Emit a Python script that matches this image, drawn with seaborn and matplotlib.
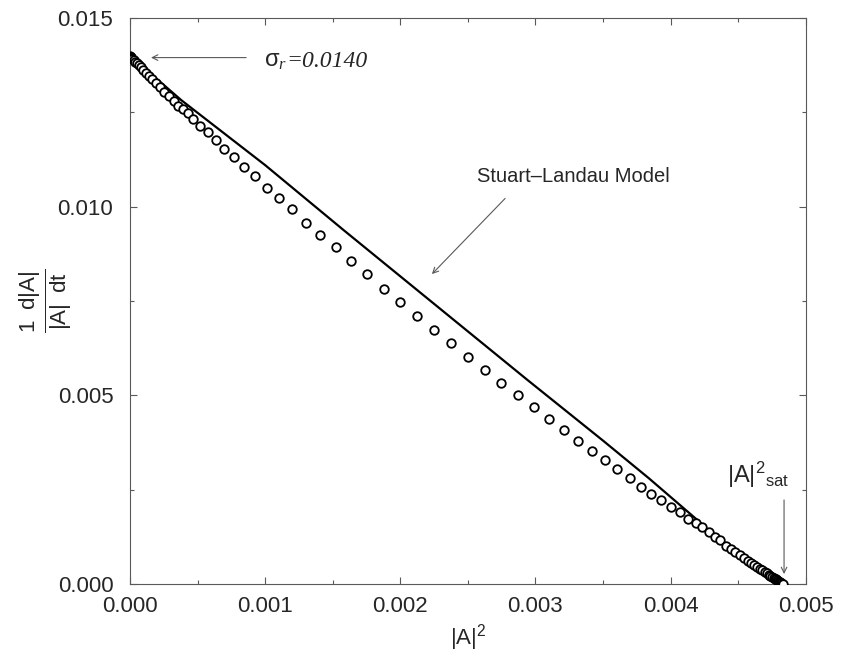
import numpy as np
import pandas as pd
import matplotlib
matplotlib.use("Agg")
import matplotlib.pyplot as plt
import seaborn as sns
from matplotlib.ticker import MultipleLocator

# values, in units of 1e-3
amp2_sim = [0.000, 0.005, 0.010, 0.018, 0.027, 0.038, 0.050, 0.064, 0.080, 0.098,
            0.118, 0.140, 0.165, 0.192, 0.222, 0.254, 0.288, 0.322, 0.358, 0.392,
            0.426, 0.468, 0.517, 0.574, 0.633, 0.696, 0.768, 0.842, 0.923, 1.010,
            1.106, 1.199, 1.305, 1.408, 1.521, 1.632, 1.756, 1.876, 2.001, 2.127,
            2.252, 2.378, 2.504, 2.629, 2.747, 2.873, 2.986, 3.097, 3.210, 3.316,
            3.420, 3.516, 3.606, 3.698, 3.779, 3.857, 3.931, 4.001, 4.069, 4.131,
            4.185, 4.234, 4.284, 4.328, 4.363, 4.407, 4.445, 4.480, 4.512, 4.542,
            4.570, 4.596, 4.620, 4.642, 4.662, 4.680, 4.697, 4.712, 4.726, 4.739,
            4.751, 4.762, 4.772, 4.781, 4.789, 4.797, 4.804, 4.810, 4.816, 4.821,
            4.826, 4.830]
rate_sim = [13.98, 13.96, 13.94, 13.91, 13.88, 13.84, 13.80, 13.75, 13.69, 13.62,
            13.55, 13.47, 13.38, 13.28, 13.17, 13.05, 12.92, 12.79, 12.66, 12.58,
            12.47, 12.32, 12.14, 11.97, 11.76, 11.54, 11.31, 11.06, 10.80, 10.50,
            10.22, 9.93, 9.57, 9.25, 8.92, 8.56, 8.21, 7.82, 7.47, 7.09,
            6.74, 6.39, 6.01, 5.68, 5.33, 5.01, 4.68, 4.36, 4.08, 3.80,
            3.52, 3.28, 3.04, 2.81, 2.58, 2.39, 2.22, 2.04, 1.92, 1.73,
            1.61, 1.50, 1.39, 1.25, 1.17, 1.01, 0.92, 0.84, 0.76, 0.69,
            0.62, 0.56, 0.50, 0.45, 0.40, 0.36, 0.32, 0.28, 0.25, 0.22,
            0.19, 0.165, 0.14, 0.12, 0.10, 0.08, 0.065, 0.05, 0.035, 0.02,
            0.01, 0.0]

amp2_model = [0.0, 0.38, 1.0, 1.58, 2.2, 2.94, 3.5, 3.84, 4.21, 4.33, 4.55, 4.85]
rate_model = [14.0, 12.82, 11.10, 9.38, 7.57, 5.41, 3.80, 2.80, 1.66, 1.25, 0.66, 0.0]

sigma_r = 0.0140
amp2_sat = 0.00484

sim = pd.DataFrame({"A2": np.array(amp2_sim) * 1e-3, "rate": np.array(rate_sim) * 1e-3})
model = pd.DataFrame({"A2": np.array(amp2_model) * 1e-3, "rate": np.array(rate_model) * 1e-3})

sns.set_style("ticks")
plt.rcParams["font.family"] = ["Liberation Sans", "DejaVu Sans"]
plt.rcParams["mathtext.fontset"] = "custom"
plt.rcParams["mathtext.rm"] = "Liberation Sans"
plt.rcParams["mathtext.it"] = "Liberation Serif:italic"
plt.rcParams["mathtext.sf"] = "Liberation Sans"

fig = plt.figure(figsize=(8.41, 6.56), dpi=100)
ax = fig.add_axes([0.1546, 0.1098, 0.8034, 0.8628])

sns.lineplot(data=model, x="A2", y="rate", ax=ax, color="black", lw=1.6, sort=True)
sns.scatterplot(data=sim, x="A2", y="rate", ax=ax, marker="o", s=38,
                facecolor="white", edgecolor="black", linewidth=1.3, zorder=3)

ax.set_xlim(0, 0.005)
ax.set_ylim(0, 0.015)
ax.xaxis.set_major_locator(MultipleLocator(0.001))
ax.xaxis.set_minor_locator(MultipleLocator(0.0005))
ax.yaxis.set_major_locator(MultipleLocator(0.005))
ax.yaxis.set_minor_locator(MultipleLocator(0.0025))
ax.xaxis.set_major_formatter(matplotlib.ticker.FormatStrFormatter("%.3f"))
ax.yaxis.set_major_formatter(matplotlib.ticker.FormatStrFormatter("%.3f"))
ax.tick_params(which="both", direction="in", top=True, right=True,
               color="0.35", width=0.8, labelsize=16)
ax.tick_params(which="major", length=5)
ax.tick_params(which="minor", length=3)
ax.tick_params(axis="y", pad=12)
ax.tick_params(axis="x", pad=9)
for sp in ax.spines.values():
    sp.set_color("0.35")
    sp.set_linewidth(0.8)

ax.set_xlabel(r"$\mathrm{|A|^2}$", fontsize=16, labelpad=3)
ax.set_ylabel(r"$\frac{\mathrm{1\ \ d|A|}}{\mathrm{|A|\ \ dt}}$", fontsize=23, labelpad=-12)

arrow = dict(arrowstyle="->", color="0.35", lw=0.8)
ax.annotate("", xy=(0.000135, sigma_r - 0.00005), xytext=(0.00088, sigma_r - 0.00005),
            arrowprops=arrow)
ax.text(0.00099, sigma_r - 0.00030, r"$\mathrm{\sigma}_{r}$", fontsize=17,
        va="baseline", ha="left")
ax.text(0.00116, sigma_r - 0.00030, "=0.0140", fontsize=17, va="baseline", ha="left",
        fontstyle="italic", family=["Liberation Serif", "DejaVu Serif"])

ax.annotate("", xy=(0.00222, 0.00816), xytext=(0.00279, 0.01027), arrowprops=arrow)
ax.text(0.00257, 0.01080, "Stuart\u2013Landau Model", fontsize=14.5, ha="left", va="center")

ax.annotate("", xy=(amp2_sat, 0.00019), xytext=(amp2_sat, 0.0023), arrowprops=arrow)
ax.text(amp2_sat + 0.00004, 0.0025, r"$\mathrm{|A|^{2}{}_{sat}}$", fontsize=17,
        ha="right", va="bottom")

fig.savefig("out.png", dpi=100)
